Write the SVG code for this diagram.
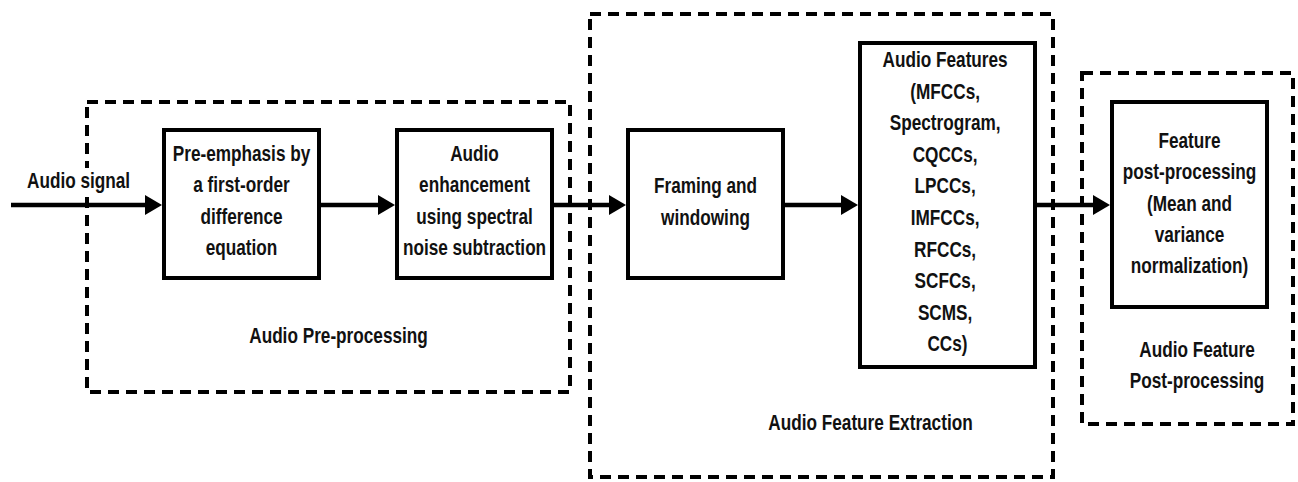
<svg xmlns="http://www.w3.org/2000/svg" width="1298" height="482" viewBox="0 0 1298 482">
  <style>
    .stage { fill: none; stroke: #000; stroke-width: 4; stroke-dasharray: 11 7; }
    .box { fill: #fff; stroke: #000; stroke-width: 4; }
    .wire { fill: none; stroke: #000; stroke-width: 4.5; }
    .lbl { font-family: "Liberation Sans", Arial, sans-serif; font-weight: bold; font-size: 21.5px; fill: #111; text-anchor: middle; }
    .start { text-anchor: start; }
  </style>
  <defs>
    <marker id="arrow" markerUnits="userSpaceOnUse" markerWidth="18" markerHeight="20" refX="5" refY="10" orient="auto">
      <path d="M0,0 L17,10 L0,20 z" fill="#000"/>
    </marker>
  </defs>

  <rect width="1298" height="482" fill="#fff"/>

  <!-- processing stages (dashed frames) -->
  <g id="stage-preprocessing">
    <rect class="stage" x="87" y="102" width="483" height="290"/>
    <g transform="translate(338.5,343) scale(0.8,1)"><text class="lbl" x="0" y="0">Audio Pre-processing</text></g>
  </g>
  <g id="stage-extraction">
    <rect class="stage" x="590" y="14" width="463" height="463"/>
    <g transform="translate(870.5,430) scale(0.8,1)"><text class="lbl" x="0" y="0">Audio Feature Extraction</text></g>
  </g>
  <g id="stage-postprocessing">
    <rect class="stage" x="1082" y="73" width="211" height="351"/>
    <g transform="translate(1197,0) scale(0.8,1)">
      <text class="lbl"><tspan x="0" y="357">Audio Feature</tspan><tspan x="0" y="388">Post-processing</tspan></text>
    </g>
  </g>

  <!-- signal flow -->
  <g id="connectors">
    <line class="wire" x1="11" y1="205" x2="150" y2="205" marker-end="url(#arrow)"/>
    <line class="wire" x1="321" y1="205" x2="383" y2="205" marker-end="url(#arrow)"/>
    <line class="wire" x1="554" y1="205" x2="614" y2="205" marker-end="url(#arrow)"/>
    <line class="wire" x1="785" y1="205" x2="846" y2="205" marker-end="url(#arrow)"/>
    <line class="wire" x1="1037" y1="205" x2="1098" y2="205" marker-end="url(#arrow)"/>
    <!-- input label sits on a white plate over the dashed frame -->
    <rect x="24" y="168" width="110" height="26" fill="#fff"/>
    <g transform="translate(27,188) scale(0.8,1)"><text class="lbl start" x="0" y="0">Audio signal</text></g>
  </g>

  <!-- processing blocks -->
  <g id="pre-emphasis">
    <rect class="box" x="164" y="130" width="155" height="148"/>
    <g transform="translate(241.5,0) scale(0.8,1)">
      <text class="lbl"><tspan x="0" y="161">Pre-emphasis by</tspan><tspan x="0" y="192">a first-order</tspan><tspan x="0" y="224">difference</tspan><tspan x="0" y="255">equation</tspan></text>
    </g>
  </g>
  <g id="enhancement">
    <rect class="box" x="397" y="130" width="155" height="148"/>
    <g transform="translate(474.5,0) scale(0.8,1)">
      <text class="lbl"><tspan x="0" y="161">Audio</tspan><tspan x="0" y="192">enhancement</tspan><tspan x="0" y="224">using spectral</tspan><tspan x="0" y="255">noise subtraction</tspan></text>
    </g>
  </g>
  <g id="framing">
    <rect class="box" x="628" y="130" width="155" height="148"/>
    <g transform="translate(705.5,0) scale(0.8,1)">
      <text class="lbl"><tspan x="0" y="193">Framing and</tspan><tspan x="0" y="225">windowing</tspan></text>
    </g>
  </g>
  <g id="features">
    <rect class="box" x="860" y="43" width="175" height="324"/>
    <g transform="translate(947.5,0) scale(0.8,1)">
      <text class="lbl">
        <tspan x="0" y="67">Audio Features</tspan>
        <tspan x="0" y="98.6">(MFCCs,</tspan>
        <tspan x="0" y="130.2">Spectrogram,</tspan>
        <tspan x="0" y="161.8">CQCCs,</tspan>
        <tspan x="0" y="193.4">LPCCs,</tspan>
        <tspan x="0" y="225">IMFCCs,</tspan>
        <tspan x="0" y="256.6">RFCCs,</tspan>
        <tspan x="0" y="288.2">SCFCs,</tspan>
        <tspan x="0" y="319.8">SCMS,</tspan>
        <tspan x="0" y="351.4">CCs)</tspan>
      </text>
    </g>
  </g>
  <g id="post-processing">
    <rect class="box" x="1112" y="102" width="155" height="205"/>
    <g transform="translate(1189.5,0) scale(0.8,1)">
      <text class="lbl"><tspan x="0" y="148">Feature</tspan><tspan x="0" y="179.5">post-processing</tspan><tspan x="0" y="211">(Mean and</tspan><tspan x="0" y="242">variance</tspan><tspan x="0" y="273.5">normalization)</tspan></text>
    </g>
  </g>
</svg>
